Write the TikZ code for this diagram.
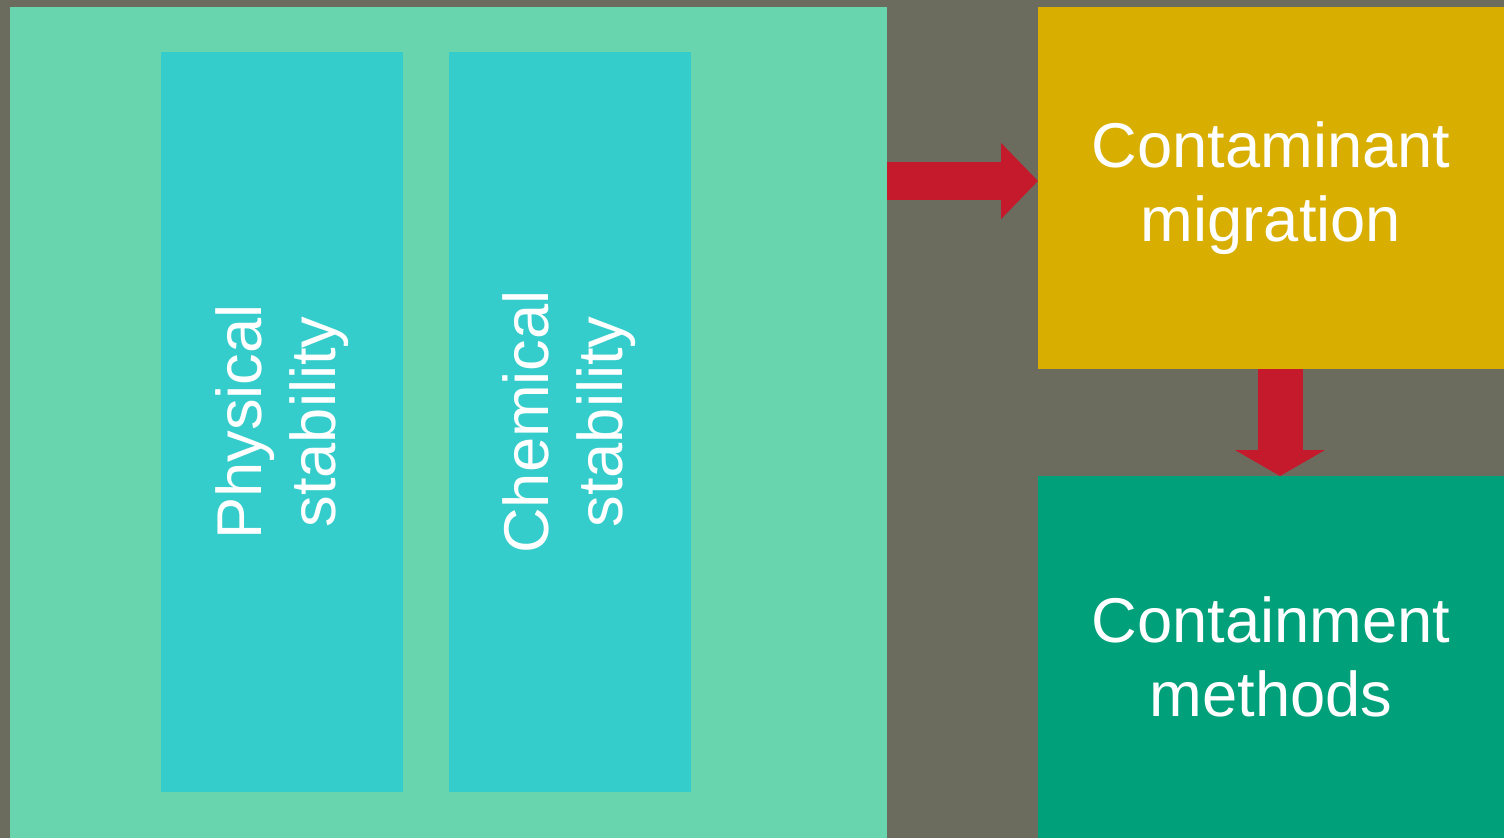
\documentclass[tikz,border=0pt]{standalone}
\usepackage{fontspec}
\setmainfont{Liberation Sans}
\usetikzlibrary{arrows.meta,positioning}
\definecolor{bgGrey}{HTML}{6B6B5E}
\definecolor{paleGreen}{HTML}{69D5AE}
\definecolor{tealBox}{HTML}{34CDCB}
\definecolor{mustard}{HTML}{D8AE00}
\definecolor{deepGreen}{HTML}{00A07A}
\definecolor{arrowRed}{HTML}{C41A2B}
\tikzstyle{panel} = [rectangle, inner sep=0pt, outer sep=0pt, draw=none]
\tikzstyle{stabbox} = [panel, fill=tealBox, rotate=90, minimum width=14.8cm, minimum height=4.84cm, text=white, align=center, font=\fontsize{36}{42}\selectfont]
\tikzstyle{result} = [panel, minimum width=9.32cm, minimum height=7.24cm, text=white, align=center, font=\fontsize{36}{42}\selectfont]
\tikzstyle{arrow} = [draw=arrowRed, line width=0.75cm, -{Triangle[length=0.74cm,width=1.48cm]}]
\tikzstyle{downarrow} = [draw=arrowRed, line width=0.9cm, -{Triangle[length=0.52cm,width=1.78cm]}]

\begin{document}
\begin{tikzpicture}

\fill[bgGrey] (0,0) rectangle (30.08,16.76);
\useasboundingbox (0,0) rectangle (30.08,16.76);

\node(big) [panel, fill=paleGreen, minimum width=17.54cm, minimum height=16.62cm] at (8.97,8.31) {};
\node(phys) [stabbox] at (5.64,8.32) {Physical\\stability};
\node(chem) [stabbox] at (11.39,8.32) {Chemical\\stability};

\node(mig) [result, fill=mustard] at (25.42,13.00) {Contaminant\\migration};
\node(meth) [result, fill=deepGreen, below=2.14cm of mig] {Containment\\methods};


\draw [arrow] ([yshift=0.14cm]big.east |- mig.west) -- ([yshift=0.14cm]mig.west);
\draw [downarrow] ([xshift=0.18cm]mig.south) -- ([xshift=0.18cm]meth.north);


\end{tikzpicture}
\end{document}
